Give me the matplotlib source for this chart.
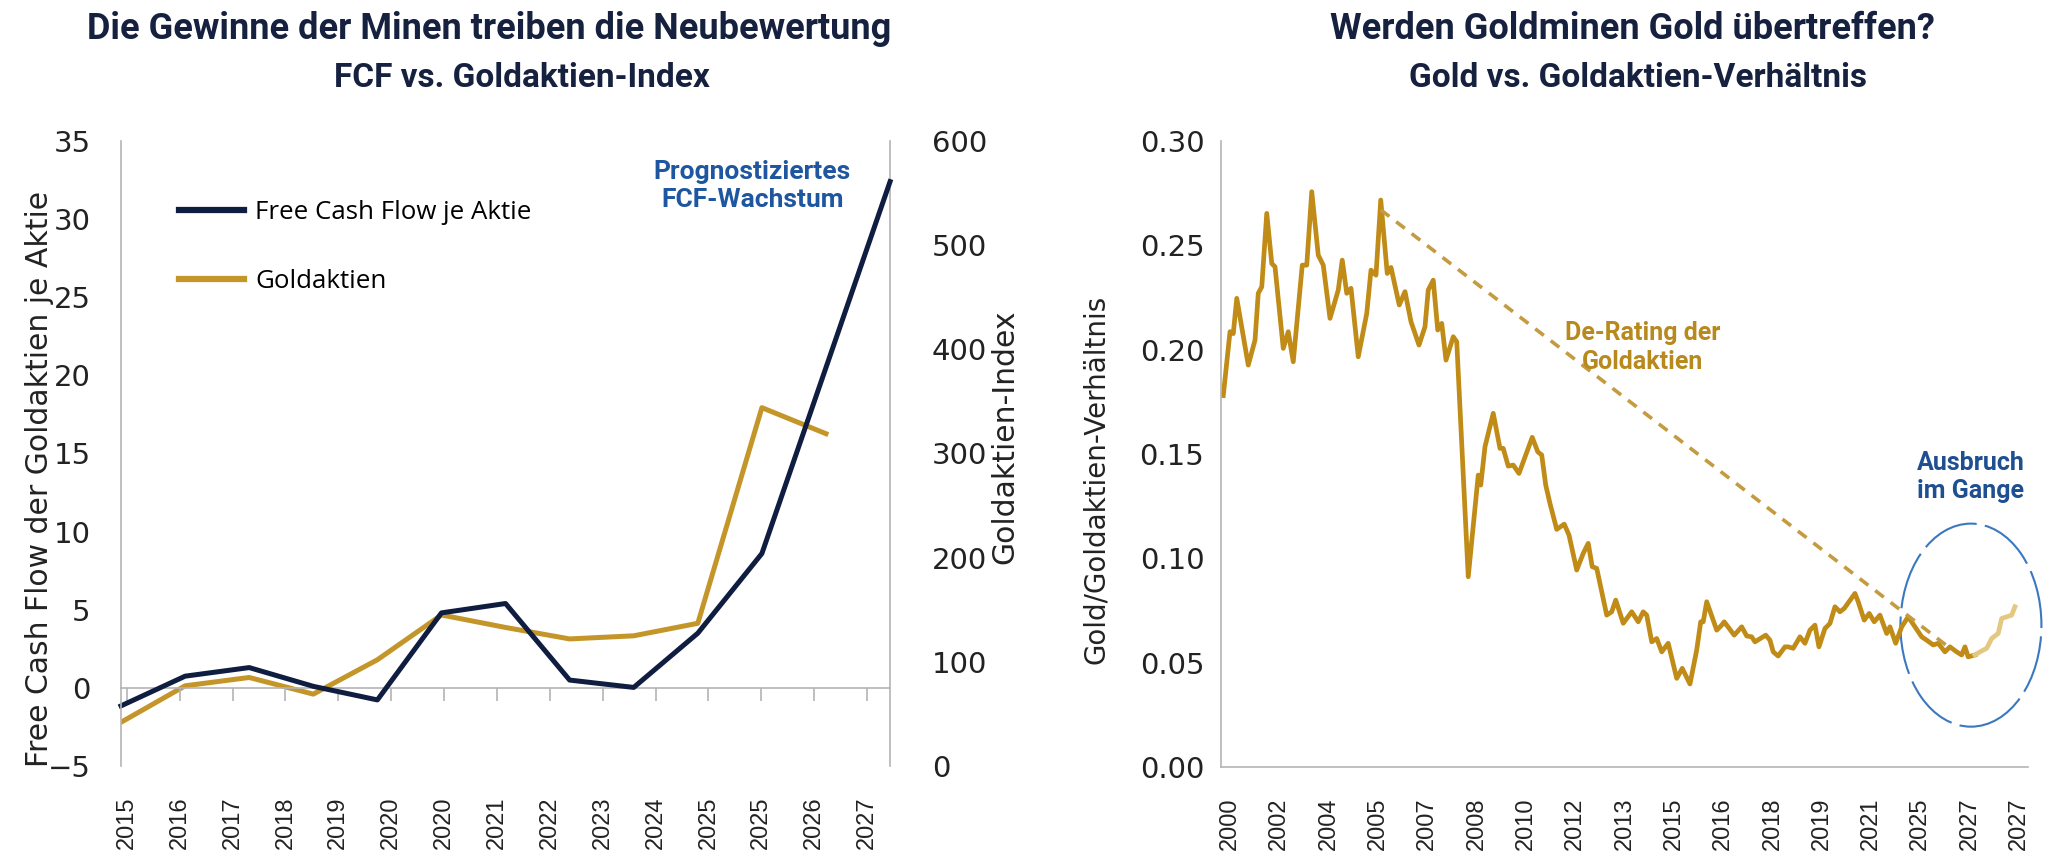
import matplotlib
matplotlib.use('Agg')
import matplotlib.pyplot as plt
from matplotlib.lines import Line2D
from matplotlib.patches import Ellipse
import numpy as np

NAVY = '#0f1d40'
GOLD = '#c4962a'
GOLD_R = '#c08b16'
GOLD_FADE = '#e4c781'
BLUE = '#1f56a0'
SPINE = '#b4b4b4'
TITLE = ['Roboto', 'DejaVu Sans']
REG = ['Liberation Sans', 'DejaVu Sans']

# ---- left panel: FCF vs. gold equity index -------------------------------
fcf = [-1.15, 0.75, 1.3, 0.1, -0.77, 4.8, 5.4, 0.5, 0.03, 3.5, 8.6, 20.5, 32.4]
gold_idx = [42, 77, 85, 69, 102, 145, 133, 122, 125, 137, 344, 319]
left_labels = ['2015', '2016', '2017', '2018', '2019', '2020', '2020', '2021',
               '2022', '2023', '2024', '2025', '2025', '2026', '2027']
left_yticks = [-5, 0, 5, 10, 15, 20, 25, 30, 35]
right_yticks = [0, 100, 200, 300, 400, 500, 600]

# ---- right panel: gold / gold-equity ratio (month index, ratio) ----------
ratio_month = [0.9, 3.6, 4.9, 6.3, 10.9, 13.6, 14.9, 16.3, 18.3, 20.3, 21.6,
               24.9, 26.9, 28.9, 30.9, 32.5, 34.3, 36.3, 38.9, 40.9, 43.6,
               46.9, 48.5, 50.3, 52.0, 54.9, 58.3, 60.0, 62.0, 63.9, 66.5,
               68.0, 71.3, 73.6, 76.0, 79.2, 81.6, 82.9, 84.9, 86.7, 88.3,
               90.0, 92.9, 94.3, 98.9, 102.9, 103.9, 105.6, 108.9, 111.6,
               112.9, 114.9, 116.9, 119.2, 124.5, 126.7, 128.3, 129.9, 131.6,
               134.3, 137.3, 139.2, 142.3, 144.9, 146.9, 148.5, 150.3, 154.3,
               156.3, 157.9, 160.9, 164.3, 166.9, 168.9, 170.3, 172.3, 174.3,
               176.3, 178.9, 182.3, 184.5, 187.6, 190.3, 191.9, 192.9, 194.3,
               198.3, 200.3, 201.3, 205.3, 208.3, 210.3, 212.3, 213.6, 217.9,
               219.6, 220.9, 222.9, 225.6, 226.9, 228.9, 231.6, 233.6, 235.6,
               237.6, 239.2, 241.6, 243.6, 245.6, 247.6, 249.3, 251.2, 253.6,
               254.9, 257.3, 259.3, 261.3, 263.6, 266.3, 267.6, 269.9, 272.3,
               274.9, 277.6, 280.3, 282.3, 284.9, 286.9, 289.6, 291.6, 294.3,
               296.3, 297.6, 298.9, 301.6]
ratio_vals = [0.178, 0.2086, 0.2077, 0.2246, 0.1926, 0.2046, 0.227, 0.2301,
              0.2653, 0.2413, 0.2397, 0.2006, 0.2086, 0.1942, 0.2198, 0.2405,
              0.2405, 0.2757, 0.2453, 0.2405, 0.215, 0.2286, 0.2429, 0.227,
              0.2294, 0.1966, 0.2174, 0.2381, 0.2357, 0.2717, 0.2365, 0.2394,
              0.2214, 0.2278, 0.2134, 0.2022, 0.211, 0.2286, 0.2333, 0.2094,
              0.2126, 0.195, 0.2062, 0.2038, 0.0912, 0.1399, 0.1351, 0.1535,
              0.1695, 0.1527, 0.1527, 0.1442, 0.1447, 0.1407, 0.158, 0.1511,
              0.1495, 0.1351, 0.1263, 0.1139, 0.1164, 0.1112, 0.0944, 0.1024,
              0.1072, 0.096, 0.0952, 0.0728, 0.0744, 0.08, 0.0689, 0.0744,
              0.0696, 0.0744, 0.0728, 0.06, 0.0616, 0.0552, 0.0593, 0.0425,
              0.0473, 0.0398, 0.0561, 0.0696, 0.0696, 0.0792, 0.0656, 0.068,
              0.0696, 0.0632, 0.0672, 0.0628, 0.0624, 0.06, 0.0632, 0.0608,
              0.0552, 0.0532, 0.0576, 0.0576, 0.0569, 0.0624, 0.0593, 0.0656,
              0.068, 0.0576, 0.0664, 0.0688, 0.0768, 0.0744, 0.076, 0.0792,
              0.0832, 0.0792, 0.0704, 0.0736, 0.0696, 0.0728, 0.064, 0.0672,
              0.0593, 0.0672, 0.072, 0.0672, 0.0624, 0.0608, 0.0585, 0.0593,
              0.0552, 0.0576, 0.0552, 0.0537, 0.0576, 0.0528, 0.0537]
# latest (faded) stretch of the ratio
fade_month = [301.6, 303.6, 306.3, 308.3, 310.9, 312.3, 314.3, 316.3, 317.6]
fade_vals = [0.0537, 0.0552, 0.0569, 0.0616, 0.064, 0.0712, 0.072, 0.0728, 0.0768]
derating_month = [63.9, 291.6]
derating_vals = [0.267, 0.057]
right_labels = ['2000', '2002', '2004', '2005', '2007', '2008', '2010', '2012',
                '2013', '2015', '2016', '2018', '2019', '2021', '2025', '2027',
                '2027']
ratio_yticks = [0.0, 0.05, 0.10, 0.15, 0.20, 0.25, 0.30]

fig = plt.figure(figsize=(20.48, 8.58), dpi=100)

# ================= left panel =================
ax = fig.add_axes([0.0591, 0.1072, 0.3755, 0.7285])
ax2 = ax.twinx()
ax.set_zorder(ax2.get_zorder() + 1)
ax.patch.set_visible(False)

x_fcf = np.arange(len(fcf))
ax.plot(x_fcf, fcf, color=NAVY, lw=3.6, clip_on=False)
ax2.plot(np.arange(len(gold_idx)), gold_idx, color=GOLD, lw=3.6)

ax.set_xlim(0, len(fcf) - 1)
ax.set_ylim(-5, 35)
ax2.set_ylim(0, 600)
ax.set_yticks(left_yticks)
ax2.set_yticks(right_yticks)

lab_pos = np.linspace(0.09, 11.64, len(left_labels))
ax.set_xticks(lab_pos)
ax.set_xticklabels(left_labels, rotation=90, fontsize=17, family=REG, color='#222222')
ax.tick_params(axis='x', length=0, pad=22)
ax.tick_params(axis='y', length=0, pad=22, labelsize=21, labelcolor='#222222')
ax2.tick_params(axis='y', length=0, pad=30, labelsize=21, labelcolor='#222222')

for a in (ax, ax2):
    a.spines['top'].set_visible(False)
    a.spines['bottom'].set_visible(False)
ax.spines['right'].set_visible(False)
ax2.spines['left'].set_visible(False)
ax.spines['left'].set_color(SPINE)
ax2.spines['right'].set_color(SPINE)
ax.spines['left'].set_linewidth(1.2)
ax2.spines['right'].set_linewidth(1.2)

# zero line with tick marks
zero_ax = ax.secondary_xaxis(5 / 40)
zero_ax.set_xticks(lab_pos)
zero_ax.set_xticklabels([])
zero_ax.tick_params(axis='x', length=9, width=1.2, color=SPINE)
zero_ax.spines['bottom'].set_color(SPINE)
zero_ax.spines['bottom'].set_linewidth(1.2)

ax.set_ylabel('Free Cash Flow der Goldaktien je Aktie', fontsize=21.5,
              family='DejaVu Sans', color='#222222')
ax.yaxis.set_label_coords(-0.087, 0.46)
ax2.set_ylabel('Goldaktien-Index', fontsize=21.5, family='DejaVu Sans',
               color='#222222', rotation=90)
ax2.yaxis.set_label_coords(1.131, 0.526)

handles = [Line2D([], [], color=NAVY, lw=4.5), Line2D([], [], color=GOLD, lw=4.5)]
ax.legend(handles, ['Free Cash Flow je Aktie', 'Goldaktien'], loc='upper left',
          bbox_to_anchor=(0.076, 0.905), frameon=False, borderaxespad=0,
          borderpad=0, handlelength=2.5, handletextpad=0.43, labelspacing=1.7,
          prop={'family': ['Open Sans', 'DejaVu Sans'], 'size': 18.6})

ax.text(9.85, 32.1, 'Prognostiziertes\nFCF-Wachstum', ha='center', va='center',
        color=BLUE, fontsize=19, fontweight='bold', family=TITLE, linespacing=1.2)

fig.text(0.239, 0.966, 'Die Gewinne der Minen treiben die Neubewertung',
         ha='center', va='center', fontsize=26, fontweight='bold',
         family=TITLE, color='#16213f')
fig.text(0.255, 0.909, 'FCF vs. Goldaktien-Index', ha='center', va='center',
         fontsize=24, fontweight='bold', family=TITLE, color='#16213f')

# ================= right panel =================
bx = fig.add_axes([0.5962, 0.106, 0.394, 0.7297])
bx.plot(ratio_month, ratio_vals, color=GOLD_R, lw=3.4)
bx.plot(fade_month, fade_vals, color=GOLD_FADE, lw=3.4)
bx.plot(derating_month, derating_vals, color='#c49b3e', lw=2.6,
        linestyle=(0, (3, 2.4)))

bx.set_xlim(0, 322.8)
bx.set_ylim(0, 0.30)
bx.set_yticks(ratio_yticks)
bx.set_yticklabels([f'{v:.2f}' for v in ratio_yticks])
rl_pos = np.linspace(3.6, 319.2, len(right_labels))
bx.set_xticks(rl_pos)
bx.set_xticklabels(right_labels, rotation=90, fontsize=17, family=REG, color='#222222')
bx.tick_params(axis='x', length=0, pad=22)
bx.tick_params(axis='y', length=0, pad=12, labelsize=21, labelcolor='#222222')
for s in ('top', 'right'):
    bx.spines[s].set_visible(False)
for s in ('left', 'bottom'):
    bx.spines[s].set_color(SPINE)
    bx.spines[s].set_linewidth(1.2)

bx.set_ylabel('Gold/Goldaktien-Verhältnis', fontsize=20, family='DejaVu Sans',
              color='#222222')
bx.yaxis.set_label_coords(-0.137, 0.46)

bx.add_patch(Ellipse((300, 0.068), 56.4, 0.0973, fill=False, edgecolor='#3a78c0',
                     lw=1.5, linestyle=(0, (28, 4)), clip_on=False))
bx.text(168.8, 0.201, 'De-Rating der\nGoldaktien', ha='center', va='center',
        color='#b8891c', fontsize=18, fontweight='bold', family=TITLE, linespacing=1.3)
bx.text(300, 0.139, 'Ausbruch\nim Gange', ha='center', va='center',
        color='#1d4f91', fontsize=18, fontweight='bold', family=TITLE, linespacing=1.25)

fig.text(0.797, 0.966, 'Werden Goldminen Gold übertreffen?', ha='center',
         va='center', fontsize=26, fontweight='bold', family=TITLE, color='#16213f')
fig.text(0.800, 0.909, 'Gold vs. Goldaktien-Verhältnis', ha='center', va='center',
         fontsize=24, fontweight='bold', family=TITLE, color='#16213f')

fig.savefig('out.png', dpi=100)
